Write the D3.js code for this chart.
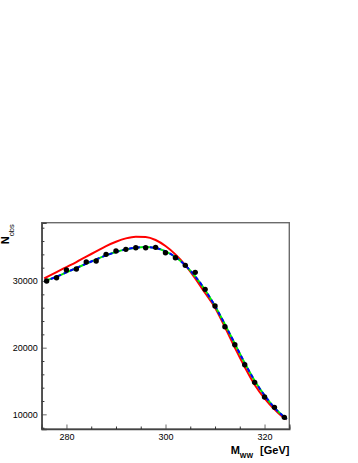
<!DOCTYPE html>
<html>
<head>
<meta charset="utf-8">
<script src="https://cdn.jsdelivr.net/npm/d3@7/dist/d3.min.js"></script>
<style>
  body { margin: 0; background: #fff; }
  svg { display: block; font-family: "Liberation Sans", Arial, sans-serif; }
</style>
</head>
<body>
<div id="chart"></div>
<script>
// ── data ──
const binMass = [276, 278, 280, 282, 284, 286, 288, 290, 292, 294, 296, 298, 300,
  302, 304, 306, 308, 310, 312, 314, 316, 318, 320, 322, 324];
const observed = [30000, 30500, 31650, 31800, 32850, 33000, 34000, 34500, 34750, 35000,
  35000, 35050, 34250, 33500, 32350, 31300, 28750, 26250, 23150, 20450, 17450, 14800,
  12600, 11050, 9550];

const curveMass = [275.5, 278, 280, 282, 284, 286, 288, 290, 292, 294, 296, 298, 300,
  302, 304, 306, 308, 310, 312, 314, 316, 318, 320, 322, 324, 324.5];
const fitCurve = [29950, 30650, 31300, 31950, 32600, 33250, 33850, 34350, 34750, 35000,
  35100, 34950, 34450, 33600, 32350, 30700, 28650, 26250, 23500, 20600, 17700, 15050,
  12850, 11000, 9600, 9300];
const altCurve = [30400, 31350, 32100, 32850, 33650, 34450, 35250, 35900, 36400, 36650,
  36600, 36150, 35250, 34000, 32400, 30400, 28200, 26000, 23100, 20000, 17100, 14450,
  12400, 10750, 9450, 9250];

const xMajor = [280, 300, 320];
const yMajor = [10000, 20000, 30000];
const xDomain = [275, 325];
const yDomain = [7800, 38750];

// ── layout ──
const W = 358, H = 463;
const frame = { left: 41.7, right: 289.3, top: 222.7, bottom: 429 };

const svg = d3.select('#chart').append('svg')
  .attr('width', W).attr('height', H);

const x = d3.scaleLinear().domain(xDomain).range([frame.left, frame.right]);
const y = d3.scaleLinear().domain(yDomain).range([frame.bottom, frame.top]);

// frame
svg.append('rect')
  .attr('x', frame.left).attr('y', frame.top)
  .attr('width', frame.right - frame.left).attr('height', frame.bottom - frame.top)
  .attr('fill', 'none').attr('stroke', '#6b6b6b').attr('stroke-width', 1.4);

// x axis (ticks pointing inward)
const xMinor = d3.range(275, 326, 5).filter(v => !xMajor.includes(v));
svg.append('g')
  .attr('transform', `translate(0,${frame.bottom})`)
  .call(d3.axisTop(x).tickValues(xMinor).tickSize(2.5).tickFormat(''))
  .call(g => g.select('.domain').remove());
const xAx = svg.append('g')
  .attr('transform', `translate(0,${frame.bottom})`)
  .call(d3.axisTop(x).tickValues(xMajor).tickSize(4.5).tickFormat(d3.format('d')));
xAx.select('.domain').attr('stroke', '#444').attr('stroke-width', 1.4);
xAx.selectAll('.tick line').attr('stroke', '#444');
xAx.selectAll('.tick text')
  .attr('y', 11.3).attr('dy', 0)
  .attr('font-size', 9).attr('fill', '#000');

// y axis
const yMinor = d3.range(8000, 38751, 2000).filter(v => !yMajor.includes(v));
svg.append('g')
  .attr('transform', `translate(${frame.left},0)`)
  .call(d3.axisRight(y).tickValues(yMinor).tickSize(2.7).tickFormat(''))
  .call(g => g.select('.domain').remove());
const yAx = svg.append('g')
  .attr('transform', `translate(${frame.left},0)`)
  .call(d3.axisRight(y).tickValues(yMajor).tickSize(5).tickFormat(d3.format('d')));
yAx.select('.domain').attr('stroke', '#444').attr('stroke-width', 1.4);
yAx.selectAll('.tick line').attr('stroke', '#444');
yAx.selectAll('.tick text')
  .attr('x', -4).attr('text-anchor', 'end')
  .attr('font-size', 9).attr('fill', '#000');
svg.selectAll('.tick line').attr('stroke-width', 0.8);

// curves
const line = d3.line()
  .x(d => x(d[0]))
  .y(d => y(d[1]))
  .curve(d3.curveMonotoneX);

svg.append('path')
  .datum(d3.zip(curveMass, altCurve))
  .attr('d', line)
  .attr('fill', 'none').attr('stroke', '#ff0000').attr('stroke-width', 2);

svg.append('path')
  .datum(d3.zip(curveMass, fitCurve))
  .attr('d', line)
  .attr('fill', 'none').attr('stroke', '#00ee00').attr('stroke-width', 2);

svg.append('path')
  .datum(d3.zip(curveMass, fitCurve))
  .attr('d', line)
  .attr('fill', 'none').attr('stroke', '#0000ff').attr('stroke-width', 2)
  .attr('stroke-dasharray', '4,3');

// observed points
svg.append('g')
  .selectAll('circle')
  .data(d3.zip(binMass, observed))
  .join('circle')
  .attr('cx', d => x(d[0]))
  .attr('cy', d => y(d[1]))
  .attr('r', 2.7)
  .attr('fill', '#000');

// axis titles
const xt = svg.append('text')
  .attr('x', 230.7).attr('y', 454)
  .attr('font-weight', 'bold').attr('fill', '#000');
xt.append('tspan').attr('font-size', 11).text('M');
xt.append('tspan').attr('font-size', 7).attr('dy', 4).text('WW');
xt.append('tspan').attr('font-size', 11).attr('dy', -4).attr('dx', 7).text('[GeV]');

const yt = svg.append('text')
  .attr('transform', 'translate(8.6,244.3) rotate(-90)')
  .attr('fill', '#000');
yt.append('tspan').attr('font-size', 11).attr('font-weight', 'bold').text('N');
yt.append('tspan').attr('font-size', 7.5).attr('dy', 5.5).text('obs');
</script>
</body>
</html>
